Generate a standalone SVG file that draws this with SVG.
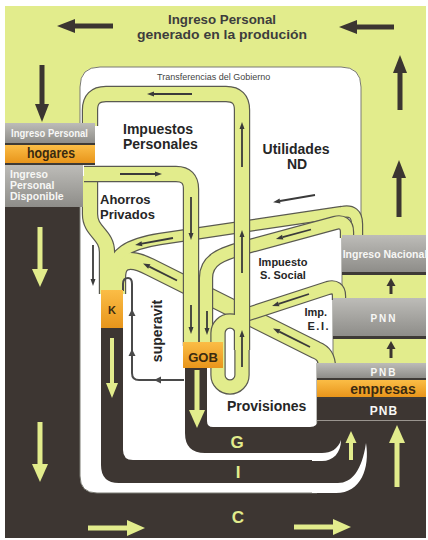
<svg xmlns="http://www.w3.org/2000/svg" width="428" height="540" viewBox="0 0 428 540">
<defs>
<linearGradient id="gGray" x1="0" y1="0" x2="0" y2="1"><stop offset="0" stop-color="#bdbcb8"/><stop offset="1" stop-color="#8e8d89"/></linearGradient>
<linearGradient id="gOr" x1="0" y1="0" x2="0" y2="1"><stop offset="0" stop-color="#fbbd46"/><stop offset="1" stop-color="#e8951b"/></linearGradient>
<marker id="hd" markerUnits="userSpaceOnUse" markerWidth="18" markerHeight="14" refX="0" refY="7" orient="auto" overflow="visible"><path d="M0,0 L18,7 L0,14 Z" fill="#3b3531"/></marker>
<marker id="hs" markerUnits="userSpaceOnUse" markerWidth="8" markerHeight="9" refX="0" refY="4.5" orient="auto" overflow="visible"><path d="M0,0 L8,4.5 L0,9 Z" fill="#3b3531"/></marker>
<marker id="hl" markerUnits="userSpaceOnUse" markerWidth="18" markerHeight="16" refX="0" refY="8" orient="auto" overflow="visible"><path d="M0,0 L18,8 L0,16 Z" fill="#e2ec8c"/></marker>
<marker id="hm" markerUnits="userSpaceOnUse" markerWidth="15" markerHeight="12" refX="0" refY="6" orient="auto" overflow="visible"><path d="M0,0 L15,6 L0,12 Z" fill="#e2ec8c"/></marker>
<marker id="hx" markerUnits="userSpaceOnUse" markerWidth="12" markerHeight="11" refX="0" refY="5.5" orient="auto" overflow="visible"><path d="M0,0 L12,5.5 L0,11 Z" fill="#e2ec8c"/></marker>
<marker id="ah" markerUnits="userSpaceOnUse" markerWidth="7" markerHeight="5" refX="0" refY="2.5" orient="auto" overflow="visible"><path d="M0,0 L7,2.5 L0,5 Z" fill="#3a3a3a"/></marker>
</defs>
<style>
.t{font-family:"Liberation Sans",Arial,sans-serif;font-weight:bold}
.lab{fill:#262626;font-size:14px}
.sm{fill:#262626;font-size:11px}
.wt{fill:#f7f7f5}
.po{fill:none;stroke:#5a5a50;stroke-linejoin:round}
.pf{fill:none;stroke:#e2ec8c;stroke-linejoin:round}
.ta{fill:none;stroke:#3a3a3a;stroke-width:1.8;marker-end:url(#ah)}
.da{stroke:#3b3531;stroke-width:5;marker-end:url(#hd)}
.ds{stroke:#3b3531;stroke-width:3;marker-end:url(#hs)}
.la{stroke:#e2ec8c;stroke-width:5;marker-end:url(#hl)}
.lm{stroke:#e2ec8c;stroke-width:4;marker-end:url(#hm)}
.lx{stroke:#e2ec8c;stroke-width:4;marker-end:url(#hx)}
.lime{fill:#e2ec8c}
</style>

<!-- background -->
<rect x="0" y="0" width="428" height="540" fill="#ffffff"/>
<rect x="5" y="6" width="421" height="532" fill="#e2ec8c"/>
<rect x="5" y="207" width="76" height="331" fill="#3d3632"/>
<rect x="5" y="399" width="421" height="139" fill="#3d3632"/>

<!-- government white area -->
<path id="area" d="M100,67 H341 Q361,67 361,87 V222 L342,234 V298 H333 V363 H317 V493 H97 Q80,493 80,476 V87 Q80,67 100,67 Z" fill="#ffffff" stroke="#7a7a72" stroke-width="1"/>

<!-- dark channels G and I -->
<path id="chanG" d="M185,368 V433 Q185,453 205,453 H318 V419 Q318,427 310,427 H213 Q207,427 207,421 V368 Z" fill="#3d3632"/>
<path id="chanI" d="M101,328 V465 Q101,483 119,483 H318 V460 H133 Q123,460 123,450 V328 Z" fill="#3d3632"/>
<path d="M312,453 H322 C331,453 338,449 341,440 C341,453 333,461 322,461 H312 Z" fill="#ffffff"/>
<path d="M312,483 H338 C352,483 362,470 366,443 C370,468 361,493 336,493 H312 Z" fill="#ffffff"/>

<g id="connectors">
<!-- layer 1: savings into K -->
<g>
<path class="po" stroke-width="18.4" d="M327,368 C327,358 324,353 316,350 L150,267 C126,255 117,262 117,278 V294"/>
<path class="po" stroke-width="12.4" d="M357,238 V224 C357,214 352,210 342,212 L160,239 C128,244 112,254 112,274 V294"/>
<path class="po" stroke-width="16.4" d="M90,176 V214 C90,232 107,234 107,252 V294"/>
<path class="pf" stroke-width="16" d="M327,368 C327,358 324,353 316,350 L150,267 C126,255 117,262 117,278 V294"/>
<path class="pf" stroke-width="10" d="M357,238 V224 C357,214 352,210 342,212 L160,239 C128,244 112,254 112,274 V294"/>
<path class="pf" stroke-width="14" d="M90,176 V214 C90,232 107,234 107,252 V294"/>
</g>
<!-- layer 2a: taxes from firms -->
<g>
<path class="po" stroke-width="14.4" d="M347,238 V232 C347,224 342,221 335,223 L250,246 C220,254 206,260 206,278 V346"/>
<path class="po" stroke-width="14.4" d="M339,300 V296 C339,289 335,286 328,288 L236,318"/>
<path class="pf" stroke-width="12" d="M347,238 V232 C347,224 342,221 335,223 L250,246 C220,254 206,260 206,278 V346"/>
<path class="pf" stroke-width="12" d="M339,300 V296 C339,289 335,286 328,288 L236,318"/>
</g>
<!-- layer 2b: transfers, personal taxes, loop -->
<g>
<path class="po" stroke-width="16.4" d="M90,126 V110 Q90,94 106,94 H226 Q242,94 242,110 V350"/>
<path class="po" stroke-width="16.4" d="M84,174 H176 Q191,174 191,189 V346"/>
<rect class="po" stroke-width="15.4" x="218" y="321" width="24" height="66" rx="12"/>
<path class="pf" stroke-width="14" d="M90,126 V110 Q90,94 106,94 H226 Q242,94 242,110 V350"/>
<path class="pf" stroke-width="14" d="M84,174 H176 Q191,174 191,189 V346"/>
<rect class="pf" stroke-width="13" x="218" y="321" width="24" height="66" rx="12"/>
</g>
<!-- flow arrows in pipes -->
<line class="ta" x1="192" y1="94" x2="154" y2="94"/>
<line class="ta" x1="242" y1="167" x2="242" y2="129"/>
<line class="ta" x1="242" y1="273" x2="242" y2="237"/>
<line class="ta" x1="242" y1="367" x2="242" y2="337"/>
<line class="ta" x1="120" y1="174" x2="155" y2="174"/>
<line class="ta" x1="191" y1="197" x2="191" y2="233"/>
<line class="ta" x1="191" y1="305" x2="191" y2="327"/>
<line class="ta" x1="207" y1="311" x2="207" y2="328"/>
<line class="ta" x1="315" y1="195" x2="280" y2="201"/>
<line class="ta" x1="311" y1="229.5" x2="282.7" y2="237.1"/>
<line class="ta" x1="173" y1="238" x2="142" y2="243.7"/>
<line class="ta" x1="177" y1="280.5" x2="149.3" y2="266.6"/>
<line class="ta" x1="310" y1="347" x2="279.3" y2="331.6"/>
<line class="ta" x1="309" y1="294" x2="278.7" y2="303.8"/>
<line class="ta" x1="93" y1="245" x2="93" y2="279"/>
<!-- superavit loop -->
<path d="M123,291 V284 Q123,278 128,278 Q132,278 132,284 V373 Q132,380 139,380 H184" fill="none" stroke="#4a4a4a" stroke-width="2"/>
<path d="M128.5,316 L132,309 L135.5,316 Z" fill="#4a4a4a"/>
<path d="M128.5,356 L132,349 L135.5,356 Z" fill="#4a4a4a"/>
<path d="M161,376.5 L154,380 L161,383.5 Z" fill="#4a4a4a"/>
<!-- big flow arrows -->
<line class="da" x1="113" y1="26" x2="75" y2="26"/>
<line class="da" x1="394" y1="27" x2="357" y2="27"/>
<line class="da" x1="42" y1="65" x2="42" y2="104"/>
<line class="da" x1="400" y1="110" x2="400" y2="73"/>
<line class="da" x1="399" y1="217" x2="399" y2="178"/>
<line class="ds" x1="391" y1="294" x2="391" y2="286"/>
<line class="ds" x1="391" y1="358" x2="391" y2="349"/>
<line class="la" x1="40" y1="227" x2="40" y2="269"/>
<line class="la" x1="40" y1="422" x2="40" y2="464"/>
<line class="la" x1="88" y1="528" x2="127" y2="528"/>
<line class="la" x1="294" y1="527" x2="333" y2="527"/>
<line class="la" x1="397" y1="487" x2="397" y2="443"/>
<line class="lx" x1="351" y1="460" x2="351" y2="443"/>
<line class="lm" x1="112" y1="338" x2="112" y2="383"/>
<line class="la" x1="197" y1="370" x2="197" y2="410"/>
</g>

<!-- nodes -->
<g id="hogares">
<rect x="5" y="123" width="90" height="42" fill="#3e3a36"/>
<rect x="5" y="123" width="90" height="20" fill="url(#gGray)"/>
<rect x="5" y="145" width="90" height="18" fill="url(#gOr)"/>
<rect x="5" y="165" width="78" height="42" fill="url(#gGray)"/>
<text class="t wt" x="11" y="137" font-size="10.5" textLength="77" lengthAdjust="spacingAndGlyphs">Ingreso Personal</text>
<text class="t" x="51" y="158" font-size="15" fill="#3a2a10" text-anchor="middle" textLength="48" lengthAdjust="spacingAndGlyphs">hogares</text>
<text class="t wt" x="10" y="178" font-size="10.5">Ingreso</text>
<text class="t wt" x="10" y="189" font-size="10.5">Personal</text>
<text class="t wt" x="10" y="200" font-size="10.5">Disponible</text>
</g>
<g id="ingreso-nacional">
<rect x="342" y="235" width="84" height="40" fill="#3e3a36"/>
<rect x="342" y="235" width="84" height="37" fill="url(#gGray)"/>
<text class="t wt" x="385" y="258" font-size="10.5" text-anchor="middle">Ingreso Nacional</text>
</g>
<g id="pnn">
<rect x="333" y="298" width="93" height="41" fill="#3e3a36"/>
<rect x="333" y="298" width="93" height="38" fill="url(#gGray)"/>
<text class="t wt" x="384" y="322" font-size="10" letter-spacing="2" text-anchor="middle">PNN</text>
</g>
<g id="empresas">
<rect x="317" y="363" width="109" height="37" fill="#3e3a36"/>
<rect x="317" y="363" width="109" height="15" fill="url(#gGray)"/>
<rect x="317" y="380" width="109" height="17" fill="url(#gOr)"/>
<rect x="317" y="399" width="109" height="21" fill="#3d3632"/>
<line x1="317" y1="420.5" x2="426" y2="420.5" stroke="#9a958f" stroke-width="1"/>
<text class="t wt" x="384" y="376" font-size="10" letter-spacing="2" text-anchor="middle">PNB</text>
<text class="t" x="383" y="394" font-size="14" fill="#3a2a10" text-anchor="middle">empresas</text>
<text class="t wt" x="384" y="415" font-size="12" letter-spacing="1" text-anchor="middle">PNB</text>
</g>
<g id="K">
<rect x="101" y="290" width="22" height="38" fill="url(#gOr)"/>
<text class="t" x="112" y="314" font-size="11" fill="#3a2a10" text-anchor="middle">K</text>
</g>
<g id="GOB">
<rect x="183" y="342" width="40" height="26" fill="url(#gOr)"/>
<text class="t" x="203" y="362" font-size="13" fill="#3a2a10" text-anchor="middle">GOB</text>
</g>

<!-- labels -->
<g id="labels">
<text class="t" x="222" y="24" font-size="13" fill="#3d3d3d" text-anchor="middle" textLength="108" lengthAdjust="spacingAndGlyphs">Ingreso Personal</text>
<text class="t" x="222" y="39" font-size="13" fill="#3d3d3d" text-anchor="middle" textLength="170" lengthAdjust="spacingAndGlyphs">generado en la produción</text>
<text x="157" y="80" font-family="Liberation Sans, Arial, sans-serif" font-size="9" fill="#444444">Transferencias del Gobierno</text>
<text class="t lab" x="123" y="134">Impuestos</text>
<text class="t lab" x="123" y="149">Personales</text>
<text class="t lab" x="296" y="154" text-anchor="middle">Utilidades</text>
<text class="t lab" x="297" y="169" text-anchor="middle">ND</text>
<text class="t" x="100" y="204" font-size="13" fill="#262626">Ahorros</text>
<text class="t" x="100" y="219" font-size="13" fill="#262626">Privados</text>
<text class="t sm" x="283" y="266" text-anchor="middle">Impuesto</text>
<text class="t sm" x="283" y="279" text-anchor="middle">S. Social</text>
<text class="t sm" x="327" y="316" text-anchor="end">Imp.</text>
<text class="t sm" x="330" y="330" text-anchor="end" letter-spacing="1.5">E.I.</text>
<text class="t lab" transform="translate(162,331) rotate(-90)" text-anchor="middle">superavit</text>
<text class="t lab" x="227" y="411">Provisiones</text>
<text class="t lime" x="237" y="448" font-size="17" text-anchor="middle">G</text>
<text class="t lime" x="238" y="478" font-size="17" text-anchor="middle">I</text>
<text class="t lime" x="238" y="523" font-size="17" text-anchor="middle">C</text>
</g>
</svg>
